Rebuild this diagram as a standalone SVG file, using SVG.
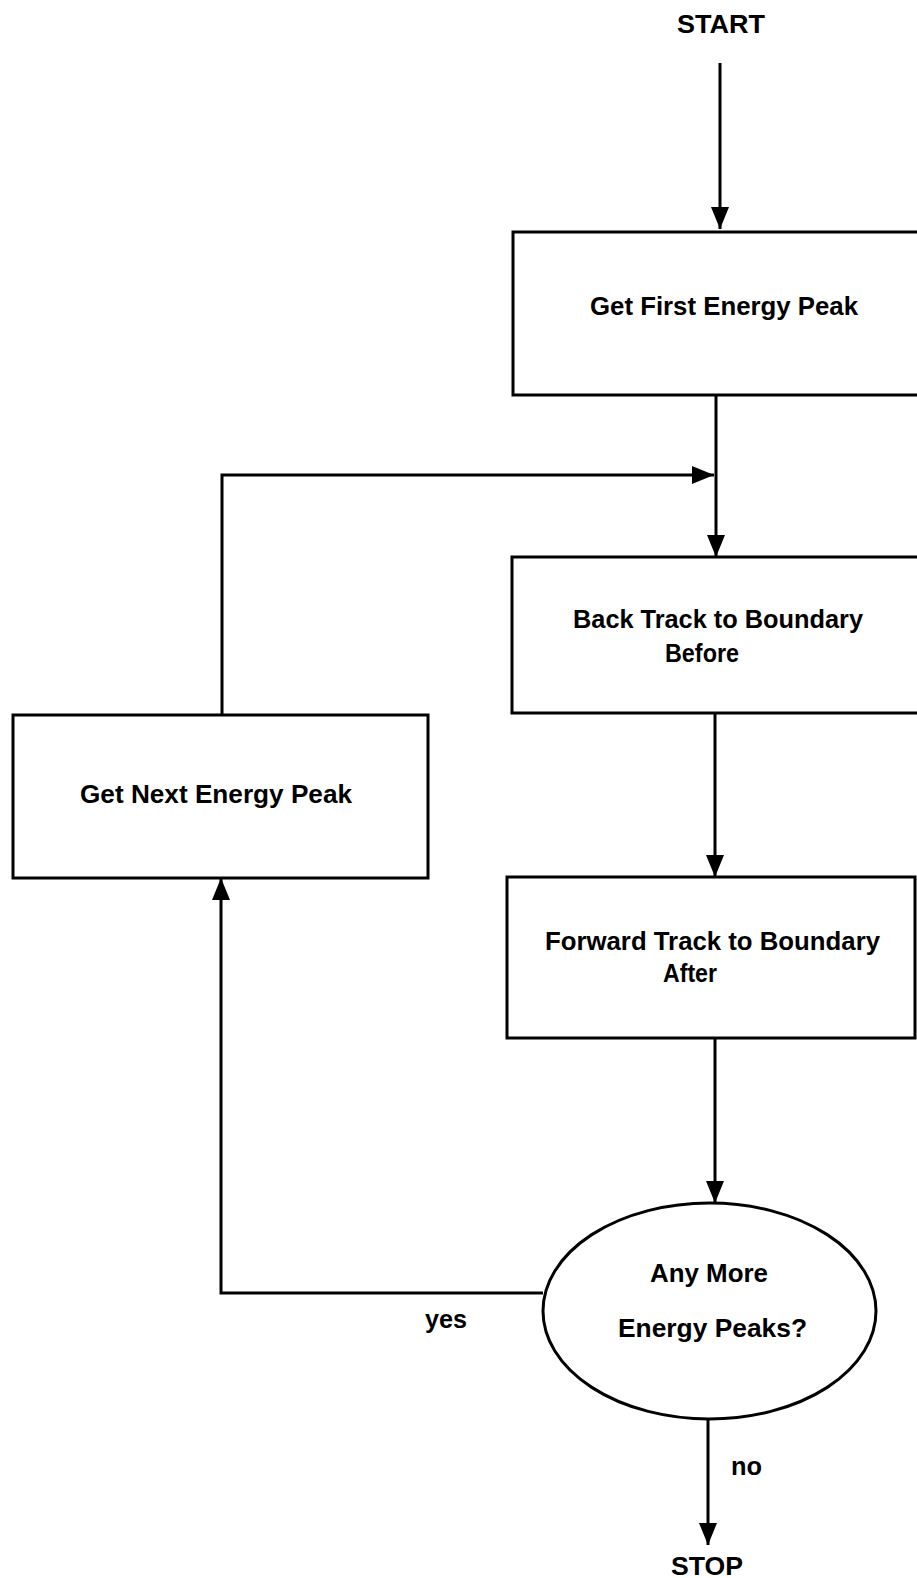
<svg xmlns="http://www.w3.org/2000/svg" width="917" height="1578" viewBox="0 0 917 1578">
<style>
.bg{fill:#ffffff}
.node{fill:#ffffff;stroke:#000000;stroke-width:3}
.conn{fill:none;stroke:#000000;stroke-width:3}
.t{font-family:"Liberation Sans",Arial,Helvetica,sans-serif;font-size:25px;font-weight:bold;fill:#000000}
</style>
<defs>
<marker id="arrow" viewBox="0 0 22 18" refX="22" refY="9" markerWidth="22" markerHeight="18" markerUnits="userSpaceOnUse" orient="auto">
<path d="M0,0 L22,9 L0,18 z" fill="#000000"/>
</marker>
</defs>
<rect class="bg" x="0" y="0" width="917" height="1578"/>

<g id="start">
<text class="t" x="677" y="33" textLength="88" lengthAdjust="spacingAndGlyphs">START</text>
</g>

<g id="get-first">
<rect class="node" x="513" y="232" width="420" height="163"/>
<text class="t" x="590" y="315" textLength="268" lengthAdjust="spacingAndGlyphs">Get First Energy Peak</text>
</g>

<g id="back-track">
<rect class="node" x="512" y="557" width="420" height="156"/>
<text class="t" x="573" y="628" textLength="290" lengthAdjust="spacingAndGlyphs">Back Track to Boundary</text>
<text class="t" x="665" y="662" textLength="74" lengthAdjust="spacingAndGlyphs">Before</text>
</g>

<g id="get-next">
<rect class="node" x="13" y="715" width="415" height="163"/>
<text class="t" x="80" y="803" textLength="272" lengthAdjust="spacingAndGlyphs">Get Next Energy Peak</text>
</g>

<g id="forward-track">
<rect class="node" x="507" y="877" width="408" height="161"/>
<text class="t" x="545" y="950" textLength="335" lengthAdjust="spacingAndGlyphs">Forward Track to Boundary</text>
<text class="t" x="663" y="982" textLength="54" lengthAdjust="spacingAndGlyphs">After</text>
</g>

<g id="decision">
<ellipse class="node" cx="709.5" cy="1311" rx="166.5" ry="108"/>
<text class="t" x="650" y="1282" textLength="118" lengthAdjust="spacingAndGlyphs">Any More</text>
<text class="t" x="618" y="1337" textLength="189" lengthAdjust="spacingAndGlyphs">Energy Peaks?</text>
</g>

<g id="stop">
<text class="t" x="671" y="1575" textLength="72" lengthAdjust="spacingAndGlyphs">STOP</text>
</g>

<g id="connectors">
<path class="conn" d="M720,63 V229" marker-end="url(#arrow)"/>
<path class="conn" d="M716,395 V557" marker-end="url(#arrow)"/>
<path class="conn" d="M222,715 V475 H714" marker-end="url(#arrow)"/>
<path class="conn" d="M715,713 V877" marker-end="url(#arrow)"/>
<path class="conn" d="M715,1038 V1203" marker-end="url(#arrow)"/>
<path class="conn" d="M543,1293 H221 V878" marker-end="url(#arrow)"/>
<path class="conn" d="M708,1419 V1545" marker-end="url(#arrow)"/>
<text class="t" x="425" y="1328" textLength="42" lengthAdjust="spacingAndGlyphs">yes</text>
<text class="t" x="731" y="1475" textLength="31" lengthAdjust="spacingAndGlyphs">no</text>
</g>
</svg>
